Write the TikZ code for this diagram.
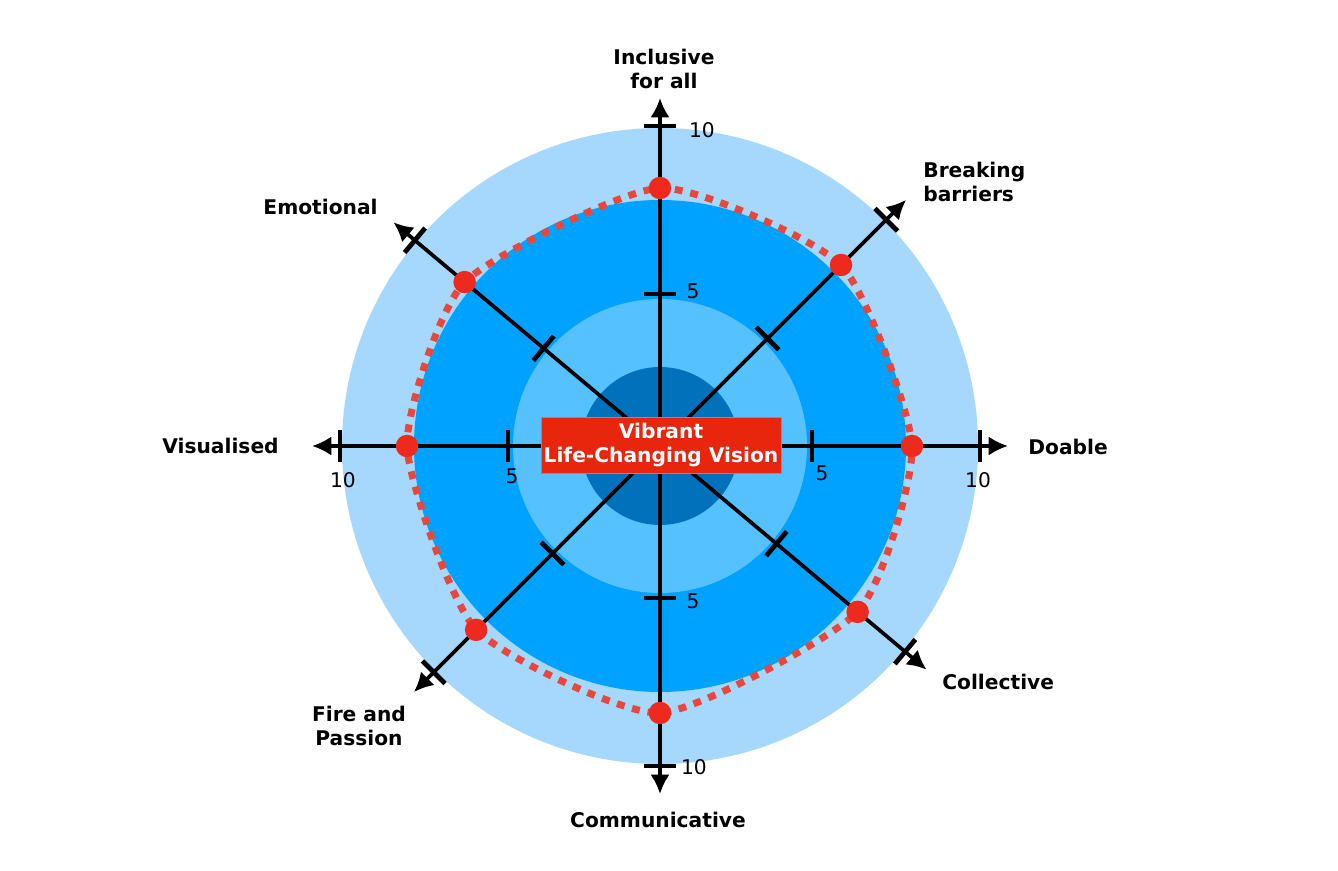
\documentclass[tikz,border=0pt]{standalone}
\usepackage{fontspec}
\setmainfont{DejaVu Sans}
\usetikzlibrary{arrows.meta}

\definecolor{ringOuter}{RGB}{166,216,253}
\definecolor{ringMid}{RGB}{0,162,255}
\definecolor{ringInner}{RGB}{85,193,255}
\definecolor{ringCore}{RGB}{0,113,186}
\definecolor{scoreRed}{RGB}{238,42,30}
\definecolor{traceRed}{RGB}{232,72,60}
\definecolor{boxRed}{RGB}{232,38,14}

\tikzset{
  axisline/.style={line width=2.1pt, -{Latex[length=11pt, width=11pt]}},
  tickmark/.style={line width=2.7pt},
  axislabel/.style={font=\fontsize{11.5}{13.5}\selectfont\bfseries, inner sep=0pt},
  ticklabel/.style={font=\fontsize{11.5}{13.5}\selectfont, inner sep=0pt},
  scoredot/.style={circle, fill=scoreRed, inner sep=0pt, minimum size=0.45cm},
  tracedots/.style={traceRed, line width=4pt, dash pattern=on 4.5pt off 4.5pt},
  visionbox/.style={fill=boxRed, draw=boxRed!70!white, line width=0.5pt, text=white,
    font=\fontsize{11.5}{13.5}\selectfont\bfseries, align=center,
    minimum width=4.8cm, minimum height=1.12cm, inner sep=0pt}
}

\begin{document}
\begin{tikzpicture}[x=0.02cm, y=0.02cm]
    \useasboundingbox (-660,-425) rectangle (678,446);
    \coordinate (O) at (0,0);
    \pgfmathsetmacro{\Rfive}{152}  % units of pixels
    \pgfmathsetmacro{\Rten}{320}  % units of pixels
    \pgfmathsetmacro{\Rtip}{348}  % units of pixels

    % rings
    \fill[ringOuter] (O) circle (318);
    \fill[ringMid] (O) circle (246);
    \fill[ringInner] (O) circle (147);
    \fill[ringCore] (O) circle (79);

    % axes with ticks at 5 and 10
    \foreach \a/\n in {90/incl, 45/break, 0/doable, -40/collect, -90/comm, 225/fire, 180/visual, 140/emot} {
        \coordinate (tip-\n) at (\a:\Rtip);
        \draw[axisline] (O) -- (tip-\n);
        \draw[tickmark, rotate=\a] (\Rfive,-16) -- (\Rfive,16);
        \draw[tickmark, rotate=\a] (\Rten,-16) -- (\Rten,16);
    }

    % scores
    \foreach \a/\r/\n in {90/258/incl, 45/256/break, 0/252/doable, -40/258/collect, -90/267/comm, 225/260/fire, 180/253/visual, 140/255/emot} {
        \coordinate (s-\n) at (\a:\r);
    }
    \draw[tracedots] plot[smooth cycle, tension=0.35] coordinates
        {(s-incl) (s-break) (s-doable) (s-collect) (s-comm) (s-fire) (s-visual) (s-emot)};
    \foreach \n in {incl, break, doable, collect, comm, fire, visual, emot} {
        \node[scoredot] (dot-\n) at (s-\n) {};
    }

    \node[visionbox] (vision) at (1,1) {Vibrant\\Life-Changing Vision};

    % tick numbers
    \node[ticklabel] (ten-top) at (42,316) {10};
    \node[ticklabel] (five-top) at (33,155) {5};
    \node[ticklabel] (five-bot) at (33,-155) {5};
    \node[ticklabel] (ten-bot) at (34,-321) {10};
    \node[ticklabel] (five-right) at (162,-27) {5};
    \node[ticklabel] (ten-right) at (318,-34) {10};
    \node[ticklabel] (five-left) at (-148,-30) {5};
    \node[ticklabel] (ten-left) at (-317,-34) {10};

    % axis names
    \node[axislabel, align=center] (incl) at (4,377) {Inclusive\\for all};
    \node[axislabel, align=left, anchor=west] (break) at (263,264) {Breaking\\barriers};
    \node[axislabel, anchor=west] (doable) at (368,-1) {Doable};
    \node[axislabel, anchor=west] (collect) at (282,-236) {Collective};
    \node[axislabel] (comm) at (-2,-374) {Communicative};
    \node[axislabel, align=center] (fire) at (-301,-280) {Fire and\\Passion};
    \node[axislabel, anchor=east] (visual) at (-381,0) {Visualised};
    \node[axislabel, anchor=east] (emot) at (-282,239) {Emotional};
\end{tikzpicture}
\end{document}
